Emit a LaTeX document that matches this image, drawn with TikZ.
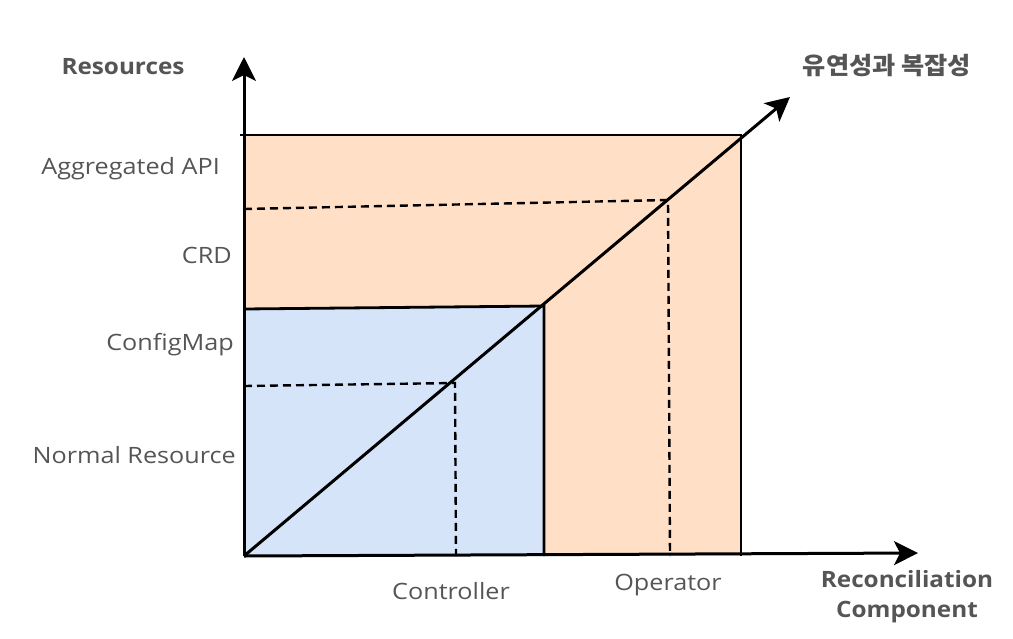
\documentclass[tikz,border=0pt]{standalone}
\usepackage{fontspec}
\setmainfont{Open Sans}
\newfontfamily\widefont[FakeStretch=1.12]{Open Sans}
\newfontfamily\boldwide[FakeStretch=1.08]{Open Sans}
\newfontfamily\kofont[FakeStretch=1.05]{Noto Sans CJK KR}
\usetikzlibrary{arrows.meta}
\definecolor{orangefill}{HTML}{FFE0C6}
\definecolor{bluefill}{HTML}{D6E4FA}
\definecolor{txt}{HTML}{555555}
\tikzset{
  axis/.style={line width=3pt, -{Stealth[length=24pt,width=24pt,inset=6pt]}},
  edge/.style={line width=2.8pt},
  guide/.style={line width=2.4pt, dash pattern=on 8pt off 5pt},
  lbl/.style={text=txt, font=\widefont\fontsize{22.5}{27}\selectfont, inner sep=0pt},
  blbl/.style={text=txt, font=\boldwide\fontsize{22.5}{30}\selectfont\bfseries, inner sep=0pt, align=center},
}
\begin{document}
\begin{tikzpicture}[x=1pt,y=-1pt]
\useasboundingbox (0,0) rectangle (1013,638);
\coordinate (O) at (244,556);
\coordinate (ytip) at (244,57);
\coordinate (xtip) at (918,553);
\coordinate (dtip) at (790,97);
\coordinate (otl) at (240,135);
\coordinate (otr) at (741,135);
\coordinate (obr) at (741,556);
\coordinate (btl) at (244,309);
\coordinate (btr) at (544,306);
\coordinate (bbr) at (544,556);
\coordinate (c1l) at (244,386);
\coordinate (c1) at (455,383);
\coordinate (c1b) at (456,556);
\coordinate (c2l) at (244,209);
\coordinate (c2) at (668,200);
\coordinate (c2b) at (670,556);
% fills
\fill[orangefill] (244,135) rectangle (741,556);
\fill[bluefill] (O) -- (btl) -- (btr) -- (bbr) -- cycle;
% edges
\draw[edge] (otl) -- (otr) -- (obr);
\draw[edge] (btl) -- (btr) -- (bbr);
% guides
\draw[guide] (c1l) -- (c1) -- (c1b);
\draw[guide] (c2l) -- (c2) -- (c2b);
% diagonal and axes
\draw[axis] (O) -- (dtip);
\draw[axis] (O) -- (ytip);
\draw[axis] (O) -- (xtip);
% labels
\node[blbl] (res) at (123,67) {Resources};
\node[lbl, anchor=east] (agg) at (220,169) {Aggregated API};
\node[lbl, anchor=east] (crd) at (232,255) {CRD};
\node[lbl, anchor=east] (cm) at (234,345) {ConfigMap};
\node[lbl, anchor=east] (nr) at (236,455) {Normal Resource};
\node[lbl] (ctl) at (451,591) {Controller};
\node[lbl] (op) at (668,585) {Operator};
\node[blbl] (rc) at (907,597) {Reconciliation\\Component};
\node[blbl, font=\kofont\fontsize{24}{28}\selectfont\bfseries] (flex) at (887,66) {유연성과 복잡성};
\end{tikzpicture}
\end{document}
